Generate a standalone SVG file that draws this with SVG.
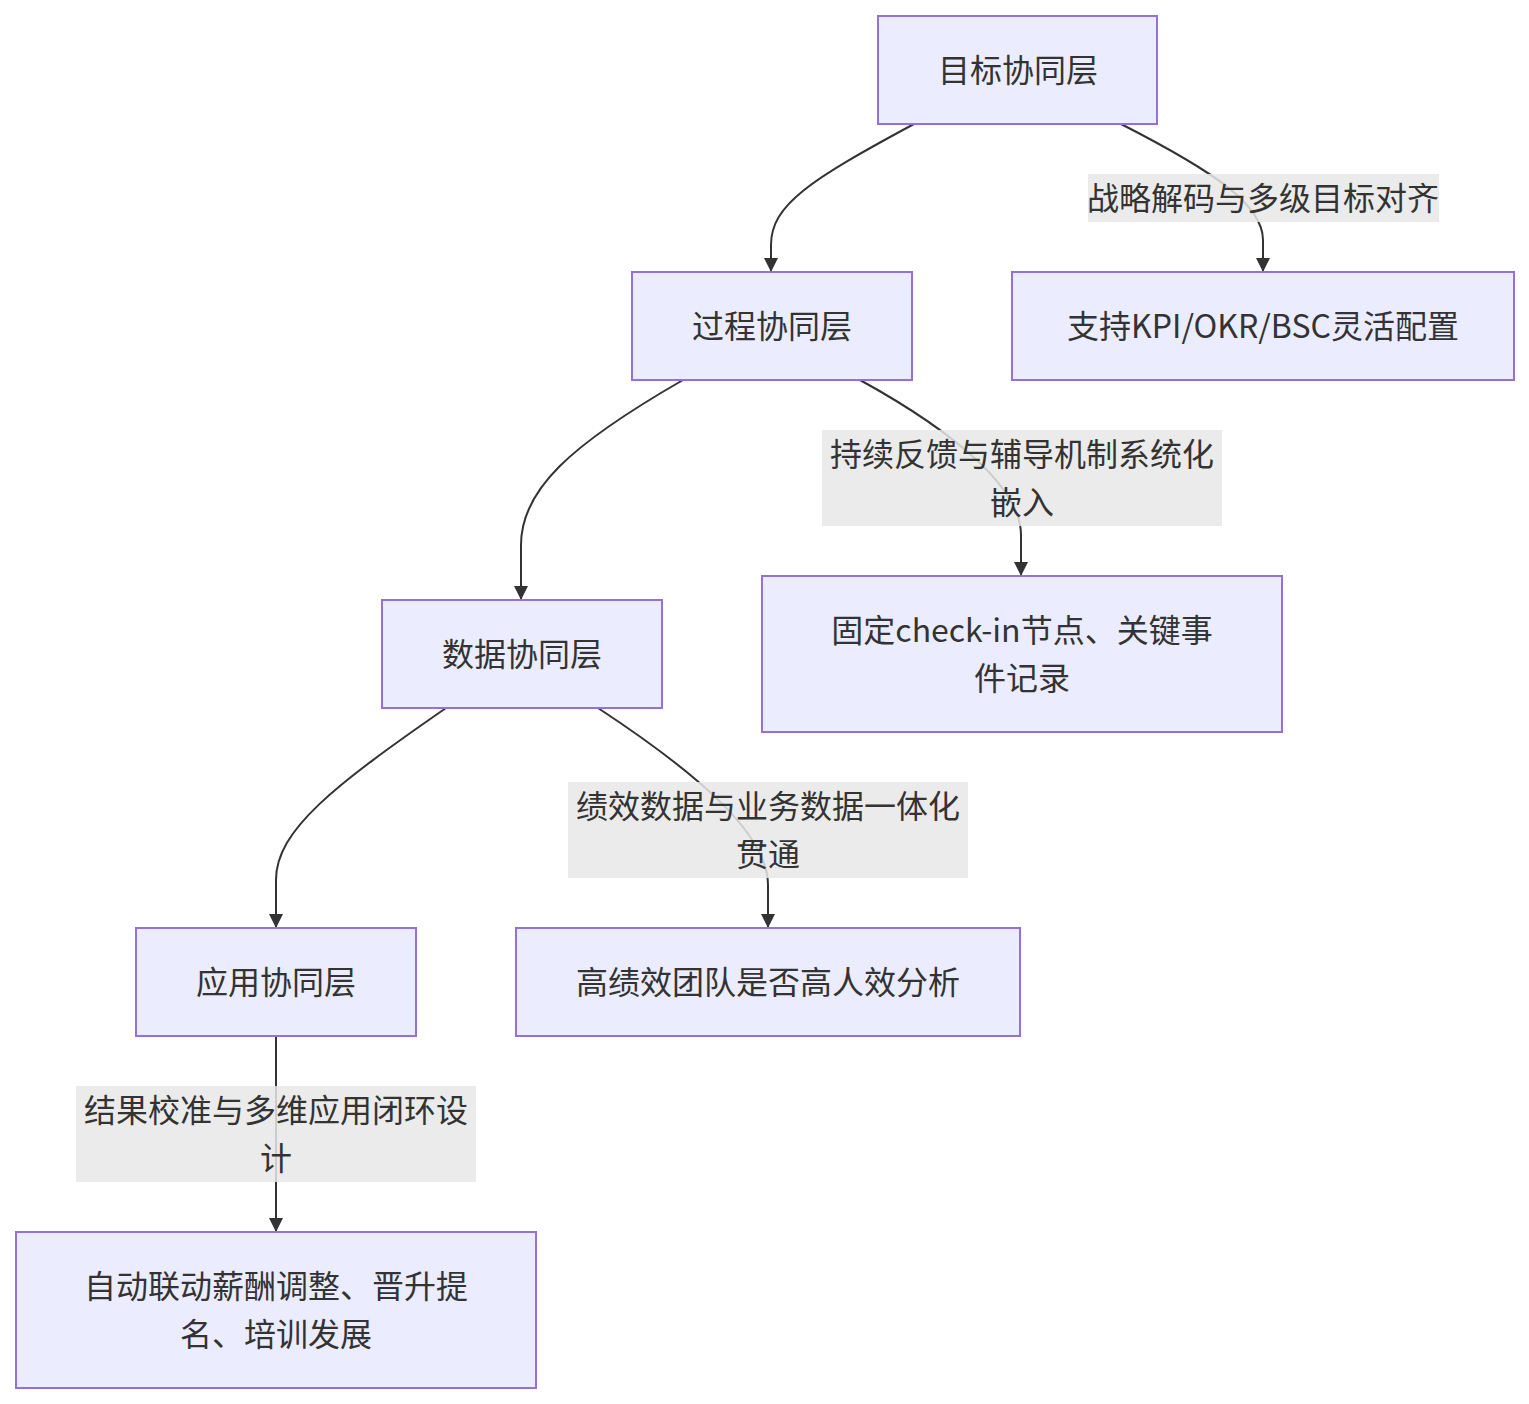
<svg xmlns="http://www.w3.org/2000/svg" width="1529" height="1404" viewBox="0 0 1529 1404">
<style>
.node rect{fill:#ECECFF;stroke:#9370DB;stroke-width:2}
text{font-family:"Noto Sans CJK SC","Noto Sans",sans-serif;font-size:32px;fill:#333;text-anchor:middle;dominant-baseline:central}
.edge{fill:none;stroke:#333;stroke-width:2}
.lbl{fill:#e8e8e8;fill-opacity:0.85}
</style>
<defs>
<marker id="arr" viewBox="0 0 10 10" refX="10" refY="5" markerWidth="7" markerHeight="7" markerUnits="strokeWidth" orient="auto">
<path d="M0,0 L10,5 L0,10 z" fill="#333"/>
</marker>
</defs>
<rect width="1529" height="1404" fill="#fff"/>
<g id="edges">
<path class="edge" d="M914,124 C 810,180 771,205 771,245 L771,272" marker-end="url(#arr)"/>
<path class="edge" d="M1121,124 C 1215,172 1263,205 1263,240 L1263,272" marker-end="url(#arr)"/>
<path class="edge" d="M683,380 C 570,445 521,490 521,545 L521,600" marker-end="url(#arr)"/>
<path class="edge" d="M860,380 C 960,435 1021,490 1021,535 L1021,576" marker-end="url(#arr)"/>
<path class="edge" d="M446,708 C 335,785 276,830 276,880 L276,928" marker-end="url(#arr)"/>
<path class="edge" d="M598,708 C 700,775 768,835 768,885 L768,928" marker-end="url(#arr)"/>
<path class="edge" d="M276,1036 L276,1232" marker-end="url(#arr)"/>
</g>
<g id="edge-labels">
<g id="label-1"><rect class="lbl" x="1088" y="174" width="351" height="48"/><text x="1263" y="196">战略解码与多级目标对齐</text></g>
<g id="label-2"><rect class="lbl" x="822" y="430" width="400" height="96"/><text x="1022" y="452">持续反馈与辅导机制系统化</text><text x="1022" y="500">嵌入</text></g>
<g id="label-3"><rect class="lbl" x="568" y="782" width="400" height="96"/><text x="768" y="804">绩效数据与业务数据一体化</text><text x="768" y="852">贯通</text></g>
<g id="label-4"><rect class="lbl" x="76" y="1086" width="400" height="96"/><text x="276" y="1108">结果校准与多维应用闭环设</text><text x="276" y="1156">计</text></g>
</g>
<g id="n-goal" class="node"><rect x="878" y="16" width="279" height="108"/><text x="1018" y="68">目标协同层</text></g>
<g id="n-process" class="node"><rect x="632" y="272" width="280" height="108"/><text x="772" y="324">过程协同层</text></g>
<g id="n-kpi" class="node"><rect x="1012" y="272" width="502" height="108"/><text x="1263" y="324">支持KPI/OKR/BSC灵活配置</text></g>
<g id="n-data" class="node"><rect x="382" y="600" width="280" height="108"/><text x="522" y="652">数据协同层</text></g>
<g id="n-checkin" class="node"><rect x="762" y="576" width="520" height="156"/><text x="1022" y="628">固定check-in节点、关键事</text><text x="1022" y="676">件记录</text></g>
<g id="n-app" class="node"><rect x="136" y="928" width="280" height="108"/><text x="276" y="980">应用协同层</text></g>
<g id="n-team" class="node"><rect x="516" y="928" width="504" height="108"/><text x="768" y="980">高绩效团队是否高人效分析</text></g>
<g id="n-auto" class="node"><rect x="16" y="1232" width="520" height="156"/><text x="276" y="1284">自动联动薪酬调整、晋升提</text><text x="276" y="1332">名、培训发展</text></g>
</svg>
